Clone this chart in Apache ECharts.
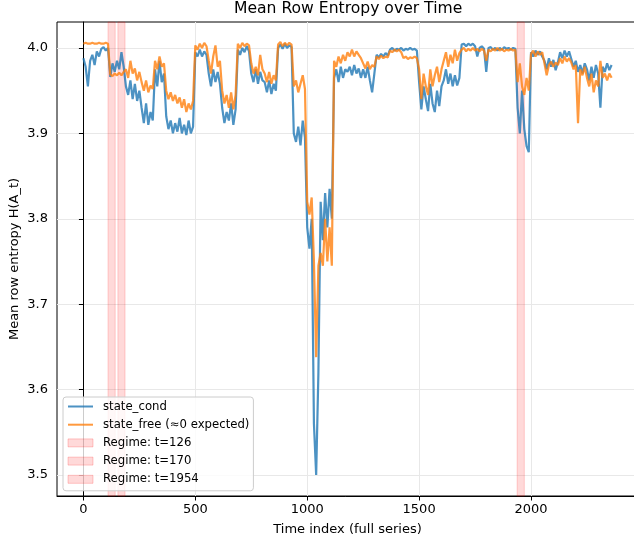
<!DOCTYPE html>
<html>
<head>
<meta charset="utf-8">
<script src="https://cdn.jsdelivr.net/npm/echarts@6/dist/echarts.min.js"></script>
<style>
  html, body { margin: 0; padding: 0; background: #fff; }
  #chart { width: 634px; height: 544px; }
</style>
</head>
<body>
<div id="chart"></div>
<script>
// time index step between samples
const tStep = 10

// state_cond, t = 0, 10, 20 ... 2360
const condValues = [
    3.988, 3.978, 3.955, 3.985, 3.992, 3.98, 3.996, 3.99, 3.999, 4.001, 3.997, 4.0,
    3.966, 3.982, 3.972, 3.985, 3.975, 3.995, 3.978,
    3.955, 3.945, 3.962, 3.94, 3.958, 3.938, 3.95,
    3.93, 3.912, 3.935, 3.91, 3.925, 3.915,
    3.975, 3.955, 3.985, 3.96, 3.97,
    3.92, 3.905, 3.915, 3.9, 3.912, 3.902, 3.918, 3.9, 3.91, 3.898, 3.915, 3.9, 3.908,
    3.995, 3.99, 3.998, 3.99, 3.996, 3.992,
    3.97, 3.955, 3.975, 3.96, 3.972, 3.958,
    3.93, 3.912, 3.925, 3.915, 3.935, 3.91, 3.928,
    3.998, 3.992, 4.0, 3.995, 4.002, 3.996,
    3.97, 3.96, 3.975, 3.958, 3.972, 3.962,
    3.96, 3.948, 3.962, 3.946, 3.958, 3.95,
    4.0, 4.004, 3.999, 4.005, 4.0, 4.003, 4.001,
    3.9, 3.89, 3.908, 3.886, 3.915, 3.895,
    3.79, 3.765, 3.8,
    3.56, 3.5, 3.62,
    3.82, 3.775, 3.83, 3.79, 3.835, 3.8,
    3.965, 3.975, 3.96, 3.978, 3.965, 3.975,
    3.972, 3.978, 3.968, 3.98, 3.97, 3.976, 3.965,
    3.975, 3.965, 3.978, 3.962, 3.948, 3.97,
    3.992, 3.989, 3.993, 3.99, 3.994, 3.991,
    3.998, 4.0, 3.997, 3.999, 3.998, 4.0, 3.997, 3.999, 3.998, 4.0, 3.998, 3.999, 3.997,
    3.96, 3.928, 3.955, 3.94, 3.926, 3.958, 3.935, 3.925, 3.95, 3.932, 3.955,
    3.962, 3.975, 3.958, 3.97, 3.955, 3.968, 3.956, 3.965,
    4.004, 4.005, 4.002, 4.005, 4.003, 4.005, 4.002, 3.99, 4.0, 4.002, 3.999, 3.972, 4.0,
    4.001, 3.998, 4.0, 3.997, 4.0, 3.998, 4.001, 3.999, 4.0, 3.998, 4.0, 3.999,
    3.93, 3.9, 3.95, 3.905, 3.885, 3.878,
    3.995, 3.99, 3.997, 3.992, 3.996, 3.99,
    3.985, 3.975, 3.988, 3.978, 3.986, 3.974, 3.983,
    3.995, 3.988, 3.997, 3.99, 3.996, 3.987,
    3.978, 3.985, 3.972, 3.98, 3.97, 3.982,
    3.975, 3.962, 3.978, 3.965, 3.98, 3.97,
    3.93, 3.978, 3.972, 3.982, 3.974, 3.98
]

// state_free, same time index
const freeValues = [
    4.005, 4.006, 4.005, 4.005, 4.006, 4.005, 4.005, 4.006, 4.005, 4.005, 4.006, 4.005,
    3.969, 3.967, 3.97, 3.968, 3.971, 3.968, 3.972,
    3.975, 3.965, 3.985, 3.97, 3.976, 3.962, 3.972,
    3.96, 3.95, 3.962, 3.948, 3.956, 3.952,
    3.985, 3.975, 3.99, 3.978, 3.982,
    3.95, 3.94, 3.948, 3.938, 3.945, 3.935, 3.942, 3.93, 3.94, 3.925, 3.935, 3.928, 3.938,
    4.003, 3.998, 4.005, 4.0, 4.006, 4.002,
    3.985, 3.97, 3.99, 4.003, 3.978, 3.985,
    3.95, 3.935, 3.945, 3.93, 3.948, 3.928, 3.945,
    4.005, 4.0, 4.006, 4.002, 4.005, 4.003,
    3.982, 3.97, 3.978, 3.968, 3.992, 3.975,
    3.97, 3.96, 3.972, 3.958, 3.968, 3.962,
    4.004, 4.007, 4.002, 4.006, 4.003, 4.006, 4.004,
    3.955, 3.962, 3.948, 3.958, 3.968, 3.952,
    3.82, 3.805, 3.825,
    3.75, 3.638, 3.745,
    3.76, 3.745, 3.8, 3.75, 3.79, 3.745,
    3.985, 3.978, 3.99, 3.982, 3.992, 3.985,
    3.995, 3.99, 3.998, 3.99, 3.996, 3.992, 3.988,
    3.982, 3.976, 3.984, 3.975, 3.98, 3.978,
    3.99, 3.987, 3.991, 3.988, 3.99, 3.989,
    3.997, 3.995, 3.998, 3.996, 3.998, 3.995, 3.988, 3.99, 3.987, 3.989, 3.988, 3.99, 3.988,
    3.975, 3.94, 3.97, 3.955, 3.945, 3.975, 3.955, 3.968, 3.978, 3.96, 3.975,
    3.985, 3.995, 3.978, 3.992, 3.982, 3.998, 3.985, 3.994,
    3.998, 4.0, 3.996, 3.999, 3.997, 4.0, 3.997, 3.999, 3.996, 3.999, 3.997, 3.985, 3.998,
    3.996, 3.999, 3.997, 4.0, 3.997, 3.999, 3.996, 3.998, 3.997, 3.999, 3.997, 3.998,
    3.96, 3.982, 3.955, 3.945, 3.965, 3.95,
    3.993, 3.997, 3.99, 3.996, 3.992, 3.995,
    3.982, 3.968, 3.98, 3.984, 3.978, 3.983, 3.98,
    3.988, 3.982, 3.99, 3.984, 3.988, 3.983,
    3.975, 3.98, 3.912, 3.975, 3.968, 3.978,
    3.965, 3.955, 3.97, 3.948, 3.962, 3.955,
    3.985, 3.965, 3.97, 3.962, 3.97, 3.965
]

// regime change points and half width of the shaded window
const regimeTimes = [126, 170, 1954]
const regimeHalfWidth = 16

const xTicks = [0, 500, 1000, 1500, 2000]
const yTicks = [3.5, 3.6, 3.7, 3.8, 3.9, 4.0]

const condName = 'state_cond'
const freeName = 'state_free (≈0 expected)'

let chart = echarts.init(document.getElementById('chart'))

const toPairs = (vals) => vals.map((v, i) => [i * tStep, v])

const bandFill = 'rgba(255, 0, 0, 0.15)'
const bandEdge = 'rgba(255, 0, 0, 0.18)'
const font = 'DejaVu Sans'

let regimeSeries = regimeTimes.map(t => ({
    name: 'Regime: t=' + t,
    type: 'line',
    data: [],
    itemStyle: { color: bandFill },
    markArea: {
        silent: true,
        itemStyle: { color: bandFill, borderColor: bandEdge, borderWidth: 1 },
        data: [[{ xAxis: t - regimeHalfWidth }, { xAxis: t + regimeHalfWidth }]]
    }
}))

let option = {
    animation: false,
    textStyle: { fontFamily: font },
    title: {
        text: 'Mean Row Entropy over Time',
        left: 234,
        top: 1,
        padding: 0,
        textStyle: { fontFamily: font, fontSize: 15.6, fontWeight: 'normal', color: '#000' }
    },
    grid: {
        left: 57, right: -4, top: 22, bottom: 48,
        outerBoundsMode: 'none',
        containLabel: false,
        show: true, borderColor: '#000', borderWidth: 1
    },
    legend: {
        orient: 'vertical',
        left: 63,
        top: 397,
        padding: [3, 4, 5, 4],
        itemWidth: 25,
        itemHeight: 8,
        itemGap: 5.2,
        backgroundColor: 'rgba(255,255,255,0.8)',
        borderColor: '#cccccc',
        borderWidth: 1,
        borderRadius: 3,
        textStyle: { fontFamily: font, fontSize: 11.7, color: '#000', lineHeight: 13, padding: [0, 0, 0, 5] },
        data: [
            { name: condName, itemStyle: { opacity: 0 } },
            { name: freeName, itemStyle: { opacity: 0 } },
            ...regimeTimes.map(t => ({
                name: 'Regime: t=' + t, icon: 'rect',
                itemStyle: { color: bandFill, borderColor: 'rgba(255,0,0,0.2)', borderWidth: 1 }
            }))
        ]
    },
    xAxis: {
        type: 'value',
        min: -118,
        max: 2478,
        name: 'Time index (full series)',
        nameLocation: 'middle',
        nameGap: 27,
        nameMoveOverlap: false,
        nameTextStyle: { fontFamily: font, fontSize: 13, color: '#000' },
        axisLine: { show: true, lineStyle: { color: '#000', width: 1 } },
        axisTick: { show: true, length: 4.5, customValues: xTicks, lineStyle: { color: '#000' } },
        axisLabel: {
            customValues: xTicks, fontSize: 13, color: '#000', margin: 7, fontFamily: font,
            formatter: v => String(v)
        },
        splitLine: { show: true, lineStyle: { color: '#e8e8e8', width: 1 } }
    },
    yAxis: {
        type: 'value',
        min: 3.4754,
        max: 4.0304,
        name: 'Mean row entropy H(A_t)',
        nameLocation: 'middle',
        nameGap: 36,
        nameMoveOverlap: false,
        nameTextStyle: { fontFamily: font, fontSize: 13, color: '#000' },
        axisLine: { show: true, lineStyle: { color: '#000', width: 1 } },
        axisTick: { show: true, length: 4.5, customValues: yTicks, lineStyle: { color: '#000' } },
        axisLabel: {
            customValues: yTicks, fontSize: 13, color: '#000', margin: 9, fontFamily: font,
            formatter: v => v.toFixed(1)
        },
        splitLine: { show: true, lineStyle: { color: '#e8e8e8', width: 1 } }
    },
    series: [
        ...regimeSeries,
        {
            name: condName,
            type: 'line',
            data: toPairs(condValues),
            showSymbol: false,
            symbol: 'none',
            color: 'rgba(31, 119, 180, 0.8)',
            lineStyle: { color: 'rgba(31, 119, 180, 0.8)', width: 2.2 }
        },
        {
            name: freeName,
            type: 'line',
            data: toPairs(freeValues),
            showSymbol: false,
            symbol: 'none',
            color: 'rgba(255, 127, 14, 0.8)',
            lineStyle: { color: 'rgba(255, 127, 14, 0.8)', width: 2.2 }
        }
    ]
}

chart.setOption(option)
</script>
</body>
</html>
